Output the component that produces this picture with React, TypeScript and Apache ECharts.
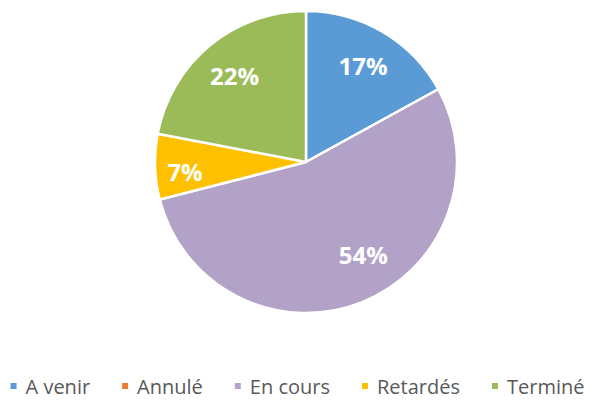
import React, { useEffect, useRef } from "react";
import * as echarts from "echarts";

const categories = ["A venir", "Annulé", "En cours", "Retardés", "Terminé"];
const values = [17, 0, 54, 7, 22];
const colors = ["#5B9BD5", "#ED7D31", "#B3A2C7", "#FFC000", "#9BBB59"];
// small label nudges (px) to mimic the original's best-fit placement
const labelNudge: [number, number][] = [[0, 0], [0, 0], [16, -12], [-9, 6], [0, 0]];

export default function App() {
  const ref = useRef<HTMLDivElement>(null);
  useEffect(() => {
    document.body.style.margin = "0";
    const chart = echarts.init(ref.current!, null, { renderer: "svg" });
    const baseData = categories.map((name, i) => ({
      name,
      value: values[i],
      itemStyle: { color: colors[i] },
    }));
    chart.setOption({
      animation: false,
      backgroundColor: "#ffffff",
      legend: {
        data: categories,
        top: 376,
        left: "center",
        padding: 0,
        icon: "rect",
        itemWidth: 8,
        itemHeight: 8,
        itemGap: 30,
        textStyle: {
          fontFamily: "Open Sans",
          fontSize: 20,
          lineHeight: 20,
          color: "#595959",
          padding: [0, 0, 0, 3],
        },
      },
      series: [
        {
          type: "pie",
          center: [306, 162],
          radius: [0, 151],
          startAngle: 90,
          clockwise: true,
          silent: true,
          itemStyle: { borderColor: "#ffffff", borderWidth: 2.5 },
          label: { show: false },
          labelLine: { show: false },
          data: baseData,
        },
        {
          type: "pie",
          center: [306, 162],
          radius: [100, 118],
          startAngle: 90,
          clockwise: true,
          silent: true,
          itemStyle: { color: "rgba(0,0,0,0)", borderWidth: 0 },
          label: {
            show: true,
            position: "inside",
            fontFamily: "Open Sans",
            fontWeight: "bold",
            fontSize: 24,
            color: "#ffffff",
            formatter: (p: any) => (p.value > 0 ? p.value + "%" : ""),
          },
          labelLayout: (p: any) => ({
            dx: labelNudge[p.dataIndex][0],
            dy: labelNudge[p.dataIndex][1],
          }),
          labelLine: { show: false },
          data: categories.map((name, i) => ({
            name,
            value: values[i],
            itemStyle: { color: "rgba(0,0,0,0)" },
          })),
        },
      ],
    });
    return () => chart.dispose();
  }, []);
  return <div ref={ref} style={{ width: 593, height: 401 }} />;
}
